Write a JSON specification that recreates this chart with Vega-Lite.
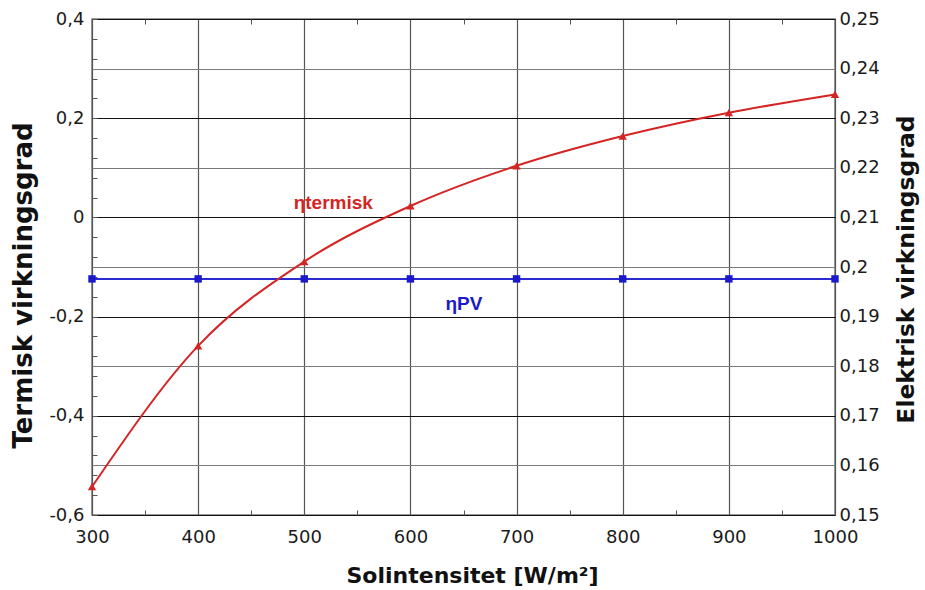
{
  "$schema": "https://vega.github.io/schema/vega-lite/v6.json",
  "width": 743,
  "height": 496,
  "autosize": {"type": "none"},
  "padding": {"left": 92, "top": 19, "right": 90, "bottom": 75},
  "background": "white",
  "datasets": {
    "termisk": [
      {"G": 300, "eta": -0.543},
      {"G": 400, "eta": -0.259},
      {"G": 500, "eta": -0.089},
      {"G": 600, "eta": 0.023},
      {"G": 700, "eta": 0.104},
      {"G": 800, "eta": 0.164},
      {"G": 900, "eta": 0.211},
      {"G": 1000, "eta": 0.248}
    ],
    "pv": [
      {"G": 300, "eta": 0.1976},
      {"G": 400, "eta": 0.1976},
      {"G": 500, "eta": 0.1976},
      {"G": 600, "eta": 0.1976},
      {"G": 700, "eta": 0.1976},
      {"G": 800, "eta": 0.1976},
      {"G": 900, "eta": 0.1976},
      {"G": 1000, "eta": 0.1976}
    ]
  },
  "config": {
    "view": {"stroke": "#7a7a7a", "strokeWidth": 1.5},
    "axis": {
      "labelFont": "DejaVu Sans",
      "titleFont": "DejaVu Sans",
      "labelFontSize": 18,
      "labelColor": "#1a1a1a",
      "titleFontWeight": "bold",
      "titleColor": "#111111",
      "domain": false,
      "labelFlush": false,
      "labelOverlap": false
    }
  },
  "resolve": {"scale": {"y": "independent"}, "axis": {"x": "independent", "y": "independent"}},
  "layer": [
    {
      "data": {"name": "termisk"},
      "mark": {"type": "point", "opacity": 0},
      "encoding": {
        "x": {"field": "G", "type": "quantitative", "scale": {"domain": [300, 1000], "nice": false}, "axis": null},
        "y": {
          "field": "eta", "type": "quantitative",
          "scale": {"domain": [-0.6, 0.4], "nice": false, "zero": false},
          "axis": {
            "orient": "left",
            "values": [-0.56, -0.52, -0.48, -0.44, -0.36, -0.32, -0.28, -0.24, -0.16, -0.12, -0.08, -0.04, 0.04, 0.08, 0.12, 0.16, 0.24, 0.28, 0.32, 0.36],
            "labels": false,
            "grid": false,
            "tickSize": -5,
            "tickColor": "#555555",
            "title": null
          }
        }
      }
    },
    {
      "data": {"name": "pv"},
      "layer": [
        {
          "mark": {"type": "line", "color": "#2a2ad0", "strokeWidth": 2},
          "encoding": {
            "x": {
              "field": "G", "type": "quantitative",
              "scale": {"domain": [300, 1000], "nice": false},
              "axis": {"orient": "top", "values": [350, 450, 550, 650, 750, 850, 950], "labels": false, "grid": false, "tickSize": -5, "tickColor": "#555555", "title": null}
            },
            "y": {
              "field": "eta", "type": "quantitative",
              "scale": {"domain": [0.15, 0.25], "nice": false, "zero": false},
              "axis": {
                "orient": "right",
                "title": "Elektrisk virkningsgrad",
                "titleFontSize": 23.5,
                "titleAngle": 270,
                "titleX": 71,
                "titleY": 250,
                "titleAlign": "center",
                "titleBaseline": "middle",
                "values": [0.15, 0.16, 0.17, 0.18, 0.19, 0.2, 0.21, 0.22, 0.23, 0.24, 0.25],
                "labelExpr": "replace(toString(datum.value), '.', ',')",
                "labelOverlap": false,
                "ticks": false,
                "labelPadding": 4,
                "grid": true,
                "gridColor": "#7a7a7a",
                "gridWidth": 1.2
              }
            }
          }
        },
        {
          "mark": {"type": "point", "shape": "square", "filled": true, "color": "#1a1acc", "size": 55, "opacity": 1},
          "encoding": {
            "x": {"field": "G", "type": "quantitative"},
            "y": {"field": "eta", "type": "quantitative"}
          }
        }
      ]
    },
    {
      "layer": [
        {
          "data": {"name": "termisk"},
          "mark": {"type": "line", "color": "#d42424", "strokeWidth": 2, "interpolate": "monotone"},
          "encoding": {
            "x": {
              "field": "G", "type": "quantitative",
              "scale": {"domain": [300, 1000], "nice": false},
              "axis": {
                "orient": "bottom",
                "title": "Solintensitet [W/m²]",
                "titleFontSize": 22,
                "titleX": 380,
                "titleY": 67,
                "titleAlign": "center",
                "titleBaseline": "alphabetic",
                "values": [300, 350, 400, 450, 500, 550, 600, 650, 700, 750, 800, 850, 900, 950, 1000],
                "labelExpr": "datum.value % 100 == 0 ? toString(datum.value) : ''",
                "labelOverlap": false,
                "tickSize": -5,
                "tickColor": "#555555",
                "labelPadding": 18,
                "grid": true,
                "gridColor": "#555555",
                "gridWidth": 1.2,
                "gridOpacity": {"condition": {"test": "datum.value % 100 == 0", "value": 1}, "value": 0}
              }
            },
            "y": {
              "field": "eta", "type": "quantitative",
              "scale": {"domain": [-0.6, 0.4], "nice": false, "zero": false},
              "axis": {
                "orient": "left",
                "title": "Termisk virkningsgrad",
                "titleFontSize": 26,
                "titleAngle": 270,
                "titleX": -69,
                "titleY": 266,
                "titleAlign": "center",
                "titleBaseline": "middle",
                "values": [-0.6, -0.4, -0.2, 0, 0.2, 0.4],
                "labelExpr": "replace(toString(datum.value), '.', ',')",
                "labelOverlap": false,
                "tickSize": -5,
                "tickColor": "#555555",
                "labelPadding": 13,
                "grid": true,
                "gridColor": "#111111",
                "gridWidth": 1.2
              }
            }
          }
        },
        {
          "data": {"name": "termisk"},
          "mark": {"type": "point", "shape": "triangle-up", "filled": true, "color": "#d42424", "size": 70, "opacity": 1},
          "encoding": {
            "x": {"field": "G", "type": "quantitative"},
            "y": {"field": "eta", "type": "quantitative"}
          }
        },
        {
          "data": {"values": [{}]},
          "mark": {"type": "text", "text": "ηtermisk", "color": "#d42424", "font": "Liberation Sans", "fontWeight": "bold", "fontSize": 19, "align": "left", "baseline": "alphabetic"},
          "encoding": {
            "x": {"datum": 490},
            "y": {"datum": 0.017}
          }
        },
        {
          "data": {"values": [{}]},
          "mark": {"type": "text", "text": "ηPV", "color": "#1a1acc", "font": "Liberation Sans", "fontWeight": "bold", "fontSize": 19, "align": "left", "baseline": "alphabetic"},
          "encoding": {
            "x": {"datum": 633},
            "y": {"datum": -0.187}
          }
        }
      ]
    }
  ]
}
